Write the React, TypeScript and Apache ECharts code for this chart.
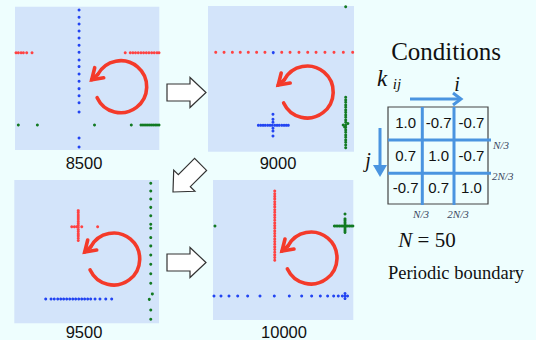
import React, { useEffect, useRef } from "react";
import * as echarts from "echarts";

// ---- data (normalised 0..100 coordinates in each panel, y measured downward) ----
const panelLabels = ["8500", "9000", "9500", "10000"];

const p1Red = [0.7, 2.3, 4.2, 5.8, 8.1, 11.8, 76.4, 79.9, 81.7, 83.5, 85.4, 87.3, 89.1, 91, 92.8, 94.7, 96.5, 98.4, 99.8].map((x) => [x, 32.1]);
const p1Blue = [2.3, 7.4, 12.1, 17, 21.8, 26.9, 31.8, 37.2, 41.8, 47, 52, 57.2, 62.1, 67, 73.5, 91.6, 97.9].map((y) => [44.4, y]);
const p1Green = [2.3, 15.5, 55.1, 80.6, 87.3, 88.7, 90.1, 91.5, 92.9, 94.3, 95.7, 97.1, 98.4, 99.8].map((x) => [x, 82.6]);

const p2Red = [5.3, 11, 16.7, 22.1, 27.6, 33.3, 39, 50.5, 56.2, 62.3, 68.3, 74, 80.1, 86.3, 92.7, 99.1].map((x) => [x, 31.8]);
const p2Blue = [
  [44.7, 32],
  ...[34.5, 36.1, 37.7, 39.2, 40.9, 42.5, 44, 45.7, 47.3, 48.8, 50.5, 52.1, 53.6, 55].map((x) => [x, 81.9]),
  ...[74.3, 77.8, 79.8, 83.9, 85.8, 89.2].map((y) => [44.5, y]),
];
const p2Green = [
  [94.3, 0.5],
  ...[62.7, 64.5, 66.1, 67.9, 69.5, 71.4, 73, 74.8, 76.4, 78.2, 79.8, 83.3, 85.1, 86.7, 88.5, 90.1, 92, 93.5, 95.4, 97.3].map((y) => [94.3, y]),
  [92.6, 81.7], [93.6, 83], [95.8, 80.6], [94.3, 81.7],
];

const p3Red = [
  ...[21.4, 22.8, 24.4, 25.8, 27.2, 28.8, 30.2, 31.6, 33, 34.6, 36, 37.6, 39, 40.6, 42.2].map((y) => [44.2, y]),
  ...[39.7, 41.5, 43.1, 46.6, 57.6].map((x) => [x, 32.6]),
];
const p3Blue = [21.7, 25.4, 27.6, 30, 32.1, 34.1, 36.2, 38.3, 40.4, 42.4, 44.5, 46.6, 48.6, 50.7, 52.8, 55.8, 59.2, 63.2, 67.3].map((x) => [x, 83]);
const p3Green = [
  ...[2.3, 7.7, 13.3, 19.1, 24.9, 30.9, 33.7, 40.2, 46, 52.3, 58.8, 65.4, 72.1, 90.7, 97.2].map((y) => [94.3, y]),
  [95.4, 79.5], [93.3, 83.3],
];

const p4Red = [7.9, 9.8, 11.7, 13.5, 15.5, 17.4, 19.2, 21.2, 23.1, 25, 26.8, 28.8, 30.7, 32.6, 34.5, 36.4, 38.2, 40.2, 42.1, 44, 45.9, 47.8, 49.6, 51.6, 53.5, 55.4, 57.3].map((y) => [44, y]);
const p4Green = [
  [1.4, 32.9],
  ...[86.5, 87.7, 88.9, 90.1, 91.3, 92.5, 93.7, 94.9, 96.1, 97.3, 98.5, 99.7].map((x) => [x, 32.9]),
  ...[24.3, 27.8, 29, 30.2, 31.4, 33.8, 35, 36.2, 37.4].map((y) => [94.1, y]),
];
const p4Blue = [
  ...[0.7, 5.7, 11.4, 17.6, 24.7, 33.5, 43.7, 54.4, 63.2, 70.3, 76.5, 81.7, 86, 89.3, 92.2].map((x) => [x, 82.9]),
  [95.9, 82.9], [94.1, 81.1], [94.1, 84.7], [94.1, 82.9],
];

const panelData = [
  [p1Red, p1Blue, p1Green],
  [p2Red, p2Blue, p2Green],
  [p3Red, p3Blue, p3Green],
  [p4Red, p4Blue, p4Green],
];

const matrixValues = [
  ["1.0", "-0.7", "-0.7"],
  ["0.7", "1.0", "-0.7"],
  ["-0.7", "0.7", "1.0"],
];

// ---- layout ----
const panels = [
  { left: 15, top: 6.7, width: 144.3, height: 143.3, lx: 84, ly: 162.5, cx: 120.7, cy: 86.7 },
  { left: 208, top: 6, width: 146, height: 145.7, lx: 278, ly: 162.5, cx: 307.2, cy: 92 },
  { left: 14.3, top: 180, width: 144.7, height: 143.3, lx: 84, ly: 331.5, cx: 113.7, cy: 259 },
  { left: 213, top: 180, width: 140.3, height: 140, lx: 284, ly: 331.5, cx: 311, cy: 258 },
];

const COLORS = ["#ff4242", "#2244f2", "#127a22"];
const BLUE_LINE = "#4a94e0";
const RED_ARROW = "#f43a2a";

function blockArrow(tipX: number, tipY: number, dx: number, dy: number) {
  const len = Math.hypot(dx, dy);
  const d = [dx / len, dy / len];
  const p = [-d[1], d[0]];
  const L = 39, hl = 16, hw = 15, sw = 8.5;
  const pt = (a: number, b: number) => [tipX - d[0] * a + p[0] * b, tipY - d[1] * a + p[1] * b];
  return [pt(L, sw), pt(hl, sw), pt(hl, hw), pt(0, 0), pt(hl, -hw), pt(hl, -sw), pt(L, -sw)];
}

function circArrow(cx: number, cy: number) {
  const r = 26;
  const a0 = (208 * Math.PI) / 180;
  const start = [cx + r * Math.cos(a0), cy + r * Math.sin(a0)];
  const tip = [cx - 29, cy - 7];
  return [
    {
      type: "arc",
      shape: { cx, cy, r, startAngle: a0, endAngle: (515 * Math.PI) / 180, clockwise: true },
      style: { stroke: RED_ARROW, lineWidth: 3.6, fill: null, lineCap: "round" },
      z: 10,
    },
    {
      type: "polyline",
      shape: { points: [start, tip] },
      style: { stroke: RED_ARROW, lineWidth: 3.6, fill: null, lineCap: "round" },
      z: 10,
    },
    {
      type: "polyline",
      shape: { points: [[tip[0] + 12, tip[1] - 2], tip, [tip[0] + 3, tip[1] - 12]] },
      style: { stroke: RED_ARROW, lineWidth: 3.6, fill: null, lineCap: "round", lineJoin: "miter" },
      z: 10,
    },
  ];
}

function txt(text: string, x: number, y: number, font: string, align = "center", fill = "#111", extra: any = {}) {
  return {
    type: "text",
    z: 20,
    style: { text, x, y, font, fill, align, textAlign: align, verticalAlign: "middle", textVerticalAlign: "middle", ...extra },
  };
}

export default function App() {
  const ref = useRef<HTMLDivElement>(null);
  useEffect(() => {
    if (!ref.current) return;
    const chart = echarts.init(ref.current, null, { renderer: "svg" });

    const grids = panels.map((p) => ({
      left: p.left, top: p.top, width: p.width, height: p.height,
      show: true, backgroundColor: "#d3e4fa", borderWidth: 0,
    }));
    const xAxes = panels.map((_, i) => ({ type: "value", gridIndex: i, min: 0, max: 100, show: false }));
    const yAxes = panels.map((_, i) => ({ type: "value", gridIndex: i, min: 0, max: 100, show: false, inverse: true }));
    const series: any[] = [];
    panelData.forEach((sets, i) => {
      sets.forEach((data, k) => {
        series.push({
          type: "scatter", xAxisIndex: i, yAxisIndex: i, data,
          symbolSize: 3, itemStyle: { color: COLORS[k], opacity: 1 }, silent: true,
        });
      });
    });

    const graphics: any[] = [];
    panels.forEach((p, i) => {
      graphics.push(...circArrow(p.cx, p.cy));
      graphics.push(txt(panelLabels[i], p.lx, p.ly, "16.5px 'Liberation Sans', Arial, sans-serif"));
    });
    // block arrows
    [blockArrow(206, 92.5, 1, 0), blockArrow(173, 192, -1, 1), blockArrow(206, 262.5, 1, 0)].forEach((pts) => {
      graphics.push({ type: "polygon", shape: { points: pts }, style: { fill: "#ffffff", stroke: "#333", lineWidth: 1.2 }, z: 5 });
    });

    // right side
    const serif = "'Liberation Serif', 'DejaVu Serif', serif";
    graphics.push(txt("Conditions", 446, 51, `25px ${serif}`));
    graphics.push(txt("k", 382, 78, `italic 23px ${serif}`));
    graphics.push(txt("ij", 397, 84, `italic 15px ${serif}`));
    graphics.push(txt("i", 457, 84, `italic 20px ${serif}`));
    graphics.push(txt("j", 368, 160, `italic 20px ${serif}`));
    // i arrow
    graphics.push({ type: "line", shape: { x1: 410, y1: 99, x2: 461, y2: 99 }, style: { stroke: BLUE_LINE, lineWidth: 3 }, z: 6 });
    graphics.push({ type: "polyline", shape: { points: [[453, 93], [461, 99], [453, 105]] }, style: { stroke: BLUE_LINE, lineWidth: 3, fill: null }, z: 6 });
    // j arrow
    graphics.push({ type: "line", shape: { x1: 380, y1: 128, x2: 380, y2: 170 }, style: { stroke: BLUE_LINE, lineWidth: 3 }, z: 6 });
    graphics.push({ type: "polygon", shape: { points: [[373, 165], [387, 165], [380, 177]] }, style: { fill: BLUE_LINE }, z: 6 });

    // matrix
    const mx = [388, 422.3, 454, 488];
    const my = [107, 140, 173.3, 204];
    graphics.push({ type: "rect", shape: { x: mx[0], y: my[0], width: mx[3] - mx[0], height: my[3] - my[0] }, style: { fill: null, stroke: "#444", lineWidth: 1.2 }, z: 6 });
    [mx[1], mx[2]].forEach((x) => graphics.push({ type: "line", shape: { x1: x, y1: my[0], x2: x, y2: my[3] + 1 }, style: { stroke: BLUE_LINE, lineWidth: 3 }, z: 7 }));
    [my[1], my[2]].forEach((y) => graphics.push({ type: "line", shape: { x1: mx[0], y1: y, x2: mx[3] + 3, y2: y }, style: { stroke: BLUE_LINE, lineWidth: 3 }, z: 7 }));
    matrixValues.forEach((row, r) => {
      row.forEach((v, c) => {
        graphics.push(txt(v, (mx[c] + mx[c + 1]) / 2 + 0.5, (my[r] + my[r + 1]) / 2 - 1, "15px 'Liberation Sans', Arial, sans-serif"));
      });
    });
    const small = `italic 11px ${serif}`;
    graphics.push(txt("N/3", 493, 145, small, "left", "#3a4660"));
    graphics.push(txt("2N/3", 492, 176, small, "left", "#3a4660"));
    graphics.push(txt("N/3", 421, 214, small, "center", "#3a4660"));
    graphics.push(txt("2N/3", 458, 214, small, "center", "#3a4660"));
    graphics.push({
      type: "text", z: 20,
      style: {
        text: "{i|N} = 50", x: 427, y: 240, font: `21px ${serif}`, fill: "#111",
        align: "center", textAlign: "center", verticalAlign: "middle", textVerticalAlign: "middle",
        rich: { i: { fontStyle: "italic", fontFamily: serif, fontSize: 21, fill: "#111" } },
      },
    });
    graphics.push(txt("Periodic boundary", 456, 273, `18.5px ${serif}`));

    chart.setOption({
      animation: false,
      backgroundColor: "#eefefe",
      grid: grids,
      xAxis: xAxes,
      yAxis: yAxes,
      series,
      graphic: { elements: graphics },
    });
    return () => chart.dispose();
  }, []);
  return <div ref={ref} style={{ position: "absolute", left: 0, top: 0, width: 536, height: 340 }} />;
}
